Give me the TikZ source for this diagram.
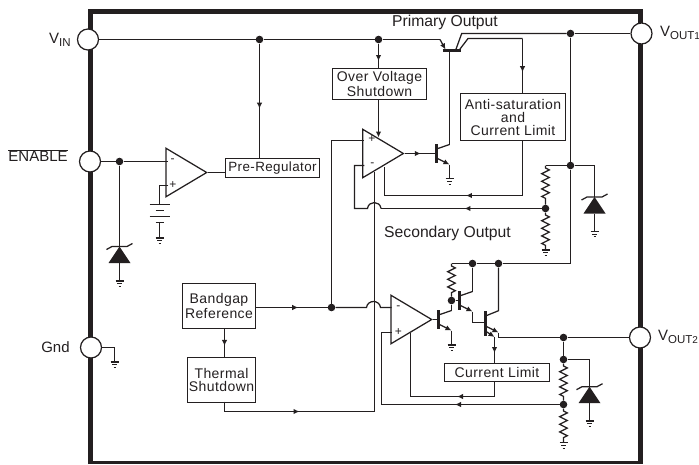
\documentclass[tikz,border=0pt]{standalone}
\usepackage{fontspec}
\setmainfont{Liberation Sans}
\newfontfamily\boxfont[LetterSpace=3]{Liberation Sans}
\usepackage{tikz}
\usetikzlibrary{positioning,arrows.meta,shapes.geometric,decorations.markings,decorations.pathmorphing}
\definecolor{ink}{HTML}{231F20}
\newcommand{\pinsub}[2]{V\raisebox{-3pt}{\fontsize{11.5}{12}\selectfont #1\fontsize{10}{10}\selectfont #2}}

\begin{document}
\begin{tikzpicture}[
x=1pt, y=-1pt,
wire/.style={draw=ink, line width=1.25pt},
tipend/.style={-{Latex[length=6pt,width=5.5pt]}},
midarrow/.style={postaction={decorate,decoration={markings,mark=at position #1 with {\arrow{Latex[length=6pt,width=5.5pt]}}}}},
resistor/.style={decorate,decoration={zigzag,segment length=7.6pt,amplitude=3.8pt,pre length=2.5pt,post length=3.5pt}},
dotnode/.style={circle, fill=ink, inner sep=0pt, minimum size=7.6pt},
pinnode/.style={circle, draw=ink, fill=white, line width=1.25pt, inner sep=0pt, minimum size=21pt},
blockbox/.style={draw=ink, line width=1.25pt, inner sep=0pt, align=center, text=ink, font=\boxfont\fontsize{14}{13}\selectfont},
amp/.style={isosceles triangle, isosceles triangle stretches, draw=ink, line width=1.25pt, inner sep=0pt, minimum width=48.5pt, minimum height=40.7pt, anchor=apex},
signtext/.style={inner sep=0pt, text=ink, font=\fontsize{12}{12}\selectfont},
pintext/.style={inner sep=0pt, text=ink, font=\fontsize{15}{15}\selectfont},
labeltext/.style={inner sep=0pt, text=ink, font=\fontsize{15.7}{16}\selectfont},
gnd/.pic={\draw[wire, line width=1.1pt] (-4,0) -- (4,0) (-2.5,2.7) -- (2.5,2.7) (-1,5.4) -- (1,5.4);},
zener/.pic={
  \coordinate (-top) at (0,0);
  \coordinate (-base) at (0,16.5);
  \fill[ink] (0,0) -- (11,16.5) -- (-11,16.5) -- cycle;
  \draw[wire] (-13,3) -- (-7.5,0) -- (7.5,0) -- (13,-3);},
npn/.pic={
  \coordinate (-base) at (0,0);
  \coordinate (-col) at (13,-9);
  \coordinate (-emi) at (13,11);
  \draw[wire, line width=2.2pt] (0,-9.5) -- (0,9.5);
  \draw[wire] (0,-4.5) -- (-col);
  \draw[wire, tipend] (0,4.5) -- (-emi);},
battery/.pic={
  \coordinate (-top) at (0,0);
  \coordinate (-bot) at (0,18);
  \draw[wire] (-10,0) -- (10,0) (-4,6) -- (4,6) (-10,12) -- (10,12) (-4,18) -- (4,18);},
]
\useasboundingbox (0,0) rectangle (699,464);
%Frame
\draw[ink, line width=5pt] (90.4,464) -- (90.4,11.5) -- (640.8,11.5) -- (640.8,464);
\draw[ink, line width=2.4pt] (90.4,462.6) -- (640.8,462.6);
%Pins
\node[pinnode] (pinVin) at (88,39.5) {};
\node[pinnode] (pinEnable) at (90,161.5) {};
\node[pinnode] (pinGnd) at (91,347.5) {};
\node[pinnode] (pinOutA) at (641.5,33.5) {};
\node[pinnode] (pinOutB) at (640,337.5) {};
\node[pintext] (txtVin) [left=6pt of pinVin] {\pinsub{IN}{}};
\node[pintext] (txtEnable) [left=11pt of pinEnable, yshift=6pt] {$\overline{\hbox{ENABLE}}$};
\node[pintext] (txtGnd) [left=10pt of pinGnd] {Gnd};
\node[pintext, anchor=west] (txtOutA) at (660,33) {\pinsub{OUT}{1}};
\node[pintext, anchor=west] (txtOutB) at (658,337) {\pinsub{OUT}{2}};
\node[labeltext] (txtPrimary) at (445,22) {Primary Output};
\node[labeltext] (txtSecondary) at (447.5,233.5) {Secondary Output};
%Boxes
\node[blockbox, minimum width=94pt, minimum height=31pt] (boxOver) at (379.5,84) {Over Voltage\\Shutdown};
\node[blockbox, minimum width=105pt, minimum height=47pt] (boxAnti) at (513,117) {Anti-saturation\\and\\Current Limit};
\node[blockbox, minimum width=94pt, minimum height=19pt, font=\boxfont\fontsize{13.4}{13}\selectfont] (boxPre) at (272.5,168) {Pre-Regulator};
\node[blockbox, minimum width=73pt, minimum height=45pt] (boxBand) at (219,306) {Bandgap\\Reference};
\node[blockbox, minimum width=68pt, minimum height=45pt] (boxTherm) [below left=28pt and 0pt of boxBand.south east] {Thermal\\Shutdown};
\node[blockbox, minimum width=105pt, minimum height=18pt] (boxCur) at (497,372.5) {Current Limit};
%Amplifiers
\node[amp] (ampA) at (208.3,172.5) {};
\node[amp] (ampB) at (405,153.5) {};
\node[amp] (ampC) at (433.3,319.5) {};
\node[signtext] (ampAminusText) at (172.5,160.5) {-};
\node[signtext] (ampAplusText) at (173,185) {+};
\node[signtext] (ampBplusText) at (372,139.3) {+};
\node[signtext] (ampBminusText) at (372.3,165) {-};
\node[signtext] (ampCminusText) at (398.3,307.3) {-};
\node[signtext] (ampCplusText) at (398.3,331.7) {+};
%Dots
\node[dotnode] (dotVinA) at (259.5,39.5) {};
\node[dotnode] (dotVinB) at (378.5,39.5) {};
\node[dotnode] (dotOutA) at (570.5,33.5) {};
\node[dotnode] (dotOutC) at (570.5,165.5) {};
\node[dotnode] (dotEnable) at (119.5,161.5) {};
\node[dotnode] (dotBand) at (331.5,307.5) {};
\node[dotnode] (dotDivA) at (545.5,208.5) {};
\node[dotnode] (dotRailA) at (472.5,263.5) {};
\node[dotnode] (dotRailB) at (498.5,263.5) {};
\node[dotnode] (dotBaseC) at (451.5,300.5) {};
\node[dotnode] (dotOutB) at (563.5,337.5) {};
\node[dotnode] (dotOutD) at (563.5,359.5) {};
\node[dotnode] (dotDivB) at (563.5,404.5) {};
%Parts
\pic (npnA) at (436.5,153.5) {npn};
\pic (npnB) at (438.5,319.5) {npn};
\pic (npnC) at (459.5,300.5) {npn};
\pic (zenA) at (594.5,197) {zener};
\pic (zenB) at (589.5,386.7) {zener};
\pic (zenE) at (119.5,246.5) {zener};
\pic (batA) at (159.5,204.5) {battery};
%Points
\coordinate (pnpIn) at (440,39.5);
\coordinate (pnpTip) at (445.5,49.5);
\coordinate (pnpBarL) at (442.5,50.5);
\coordinate (pnpBarR) at (460.5,50.5);
\coordinate (pnpBase) at (449.5,50.5);
\coordinate (pnpEmiA) at (455.7,50);
\coordinate (pnpKneeA) at (461.7,33.5);
\coordinate (pnpEmiB) at (459.3,50);
\coordinate (pnpKneeB) at (468,38.5);
\coordinate (senseA) at (522.5,38.5);
\coordinate (ampBin) at (378.5,137.5);
\coordinate (ampBplus) at (364.3,140.5);
\coordinate (ampBminus) at (364.3,165.5);
\coordinate (ampBlim) at (384.5,166.5);
\coordinate (limKneeA) at (384.5,195.5);
\coordinate (fbKneeA) at (354.5,208.5);
\coordinate (fbKneeB) at (354.5,165.5);
\coordinate (hopBL) at (367.5,208.5);
\coordinate (hopBR) at (381,208.5);
\coordinate (hopAL) at (366.5,307.5);
\coordinate (hopAR) at (380.5,307.5);
\coordinate (ampCminus) at (391.7,307.5);
\coordinate (ampCplus) at (391.7,332.5);
\coordinate (ampClim) at (410.5,333.2);
\coordinate (limKneeB) at (410.5,396.5);
\coordinate (fbKneeC) at (381.5,404.5);
\coordinate (thermOut) at (224.5,401.5);
\coordinate (thermKnee) at (224.5,411.5);
\coordinate (thermEnd) at (374.5,411.5);
\coordinate (ampBshut) at (374.5,172.4);
\coordinate (divTopA) at (545.5,165.5);
\coordinate (divGndA) at (545.5,250);
\coordinate (kneeZenA) at (594.5,165.5);
\coordinate (railKnee) at (570.5,263.5);
\coordinate (railEnd) at (451.5,263.5);
\coordinate (gndGndPin) at (114.5,362);
\coordinate (kneeGndPin) at (114.5,347.5);
\coordinate (ampAminus) at (168.3,161.5);
\coordinate (ampAplus) at (168.3,185.5);
\coordinate (kneeBat) at (159.5,185.5);
\coordinate (gndBat) at (159.5,238);
\coordinate (gndZenE) at (119.5,281);
\coordinate (gndZenA) at (594.5,231.5);
\coordinate (gndZenB) at (589.5,421);
\coordinate (gndAmpB) at (449.5,178.8);
\coordinate (gndAmpC) at (451.5,345);
\coordinate (gndDivB) at (563.5,442.7);
\coordinate (kneeZenB) at (589.5,359.5);
\coordinate (kneeEmiC) at (472.5,322.5);
\coordinate (npnDbase) at (485.5,322.5);
\coordinate (npnDtop) at (485.5,311);
\coordinate (npnDbot) at (485.5,335.7);
\coordinate (npnDcolS) at (485.5,316);
\coordinate (npnDcol) at (498.5,310.7);
\coordinate (npnDemiAS) at (485.5,326);
\coordinate (npnDemiA) at (498.5,332.5);
\coordinate (npnDemiBS) at (485.5,331);
\coordinate (npnDemiB) at (494.5,337);
\coordinate (npnDout) at (498.5,337.5);
%Lines
\draw[wire] (pinVin) -- (dotVinA);
\draw[wire] (dotVinA) -- (dotVinB);
\draw[wire] (dotVinB) -- (pnpIn);
\draw[wire, tipend] (pnpIn) -- (pnpTip);
\draw[wire, line width=2.2pt] (pnpBarL) -- (pnpBarR);
\draw[wire] (pnpBase) -- (npnA-col);
\draw[wire] (pnpEmiA) -- (pnpKneeA) -- (dotOutA);
\draw[wire] (dotOutA) -- (pinOutA);
\draw[wire] (pnpEmiB) -- (pnpKneeB) -- (senseA);
\draw[wire, midarrow=0.62] (senseA) -- (senseA |- boxAnti.north);
\draw[wire, midarrow=0.57] (dotVinA) -- (dotVinA |- boxPre.north);
\draw[wire, midarrow=0.72] (dotVinB) -- (dotVinB |- boxOver.north);
\draw[wire, tipend] (dotVinB |- boxOver.south) -- (ampBin);
\draw[wire] (pinEnable) -- (dotEnable);
\draw[wire] (dotEnable) -- (ampAminus);
\draw[wire] (dotEnable) -- (zenE-top);
\draw[wire] (zenE-base) -- (gndZenE) pic {gnd};
\draw[wire] (ampA.apex) -- (ampA.apex -| boxPre.west);
\draw[wire] (ampAplus) -- (kneeBat) -- (batA-top);
\pic at (gndBat) {gnd};
\draw[wire] (batA-bot) -- (gndBat);
\draw[wire] (pinGnd) -- (kneeGndPin) -- (gndGndPin) pic {gnd};
\draw[wire, midarrow=0.59] (boxBand.east |- dotBand) -- (dotBand);
\draw[wire] (dotBand) -- (dotBand |- ampBplus) -- (ampBplus);
\draw[wire] (dotBand) -- (hopAL) .. controls +(1,-8) and +(-1,-8) .. (hopAR) -- (ampCminus);
\draw[wire, midarrow=0.6] (thermOut |- boxBand.south) -- (thermOut |- boxTherm.north);
\draw[wire] (thermOut) -- (thermKnee);
\draw[wire, midarrow=0.5] (thermKnee) -- (thermEnd);
\draw[wire] (thermEnd) -- (ampBshut);
\draw[wire, midarrow=0.5] (ampB.apex) -- (npnA-base);
\draw[wire] (npnA-emi) -- (gndAmpB) pic {gnd};
\draw[wire] (senseA |- boxAnti.south) -- (senseA |- limKneeA);
\draw[wire, midarrow=0.41] (senseA |- limKneeA) -- (limKneeA);
\draw[wire] (limKneeA) -- (ampBlim);
\draw[wire, midarrow=0.48] (dotDivA) -- (hopBR);
\draw[wire] (hopBR) .. controls +(-1,-8) and +(1,-8) .. (hopBL) -- (fbKneeA) -- (fbKneeB) -- (ampBminus);
\draw[wire] (dotOutA) -- (dotOutC);
\draw[wire] (dotOutC) -- (divTopA);
\draw[wire] (dotOutC) -- (kneeZenA) -- (zenA-top);
\draw[wire] (zenA-base) -- (gndZenA) pic {gnd};
\draw[wire, resistor] (divTopA) -- (dotDivA);
\draw[wire, resistor] (dotDivA) -- (divGndA);
\pic at (divGndA) {gnd};
\draw[wire] (dotOutC) -- (railKnee) -- (dotRailB);
\draw[wire] (dotRailB) -- (dotRailA);
\draw[wire] (dotRailA) -- (railEnd);
\draw[wire, resistor] (railEnd) -- (dotBaseC);
\draw[wire] (dotRailA) -- (npnC-col);
\draw[wire] (dotBaseC) -- (npnC-base);
\draw[wire] (dotBaseC) -- (npnB-col);
\draw[wire] (ampC.apex) -- (npnB-base);
\draw[wire] (npnB-emi) -- (gndAmpC) pic {gnd};
\draw[wire] (npnC-emi) -- (kneeEmiC) -- (npnDbase);
\draw[wire, line width=2.2pt] (npnDtop) -- (npnDbot);
\draw[wire] (npnDcolS) -- (npnDcol) -- (dotRailB);
\draw[wire, tipend] (npnDemiAS) -- (npnDemiA);
\draw[wire] (npnDemiA) -- (npnDout) -- (dotOutB);
\draw[wire, tipend] (npnDemiBS) -- (npnDemiB);
\draw[wire, midarrow=0.62] (npnDemiB) -- (npnDemiB |- boxCur.north);
\draw[wire] (dotOutB) -- (pinOutB);
\draw[wire] (dotOutB) -- (dotOutD);
\draw[wire] (dotOutD) -- (kneeZenB) -- (zenB-top);
\draw[wire] (zenB-base) -- (gndZenB) pic {gnd};
\draw[wire, resistor] (dotOutD) -- (dotDivB);
\draw[wire, resistor] (dotDivB) -- (gndDivB);
\pic at (gndDivB) {gnd};
\draw[wire] (npnDemiB |- boxCur.south) -- (npnDemiB |- limKneeB);
\draw[wire, midarrow=0.446] (npnDemiB |- limKneeB) -- (limKneeB);
\draw[wire] (limKneeB) -- (ampClim);
\draw[wire, midarrow=0.587] (dotDivB) -- (fbKneeC);
\draw[wire] (fbKneeC) -- (fbKneeC |- ampCplus) -- (ampCplus);
\end{tikzpicture}
\end{document}
